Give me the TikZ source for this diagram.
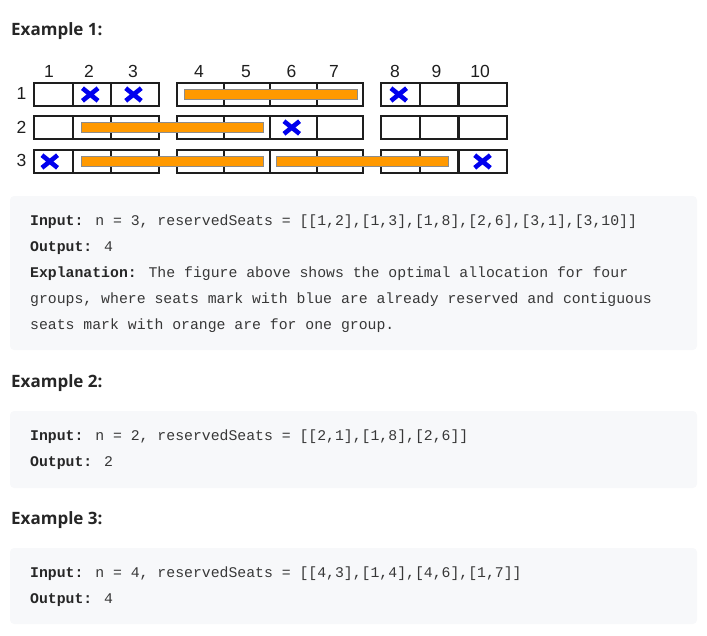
\documentclass[tikz,border=0pt]{standalone}
\usepackage{fontspec}
\usetikzlibrary{shapes.misc}
\newfontfamily\headfont{Open Sans}
\newfontfamily\seatfont{Liberation Sans}
\newfontfamily\codefont{Liberation Mono}
\definecolor{headtext}{RGB}{38,38,38}
\definecolor{codetext}{RGB}{55,55,55}
\definecolor{codebg}{RGB}{247,248,250}
\definecolor{seatline}{RGB}{30,30,30}
\definecolor{grouporange}{RGB}{255,153,0}
\definecolor{reservedblue}{RGB}{0,0,238}

\begin{document}
\begin{tikzpicture}[x=1pt, y=-1pt,
		seat/.style={draw=seatline, line width=2pt, inner sep=0pt, outer sep=0pt, minimum height=23pt},
		narrow/.style={seat, minimum width=38.5pt},
		middle/.style={seat, minimum width=46.5pt},
		wide/.style={seat, minimum width=48pt},
		group/.style={fill=grouporange, draw=black!45, line width=0.6pt},
		reserved/.style={cross out, draw=reservedblue, line width=4.6pt, minimum width=11pt, minimum height=8pt, inner sep=0pt, xshift=-1.5pt},
		seatnum/.style={font=\seatfont\fontsize{17.5}{17.5}\selectfont, text=seatline, inner sep=0pt, anchor=base},
		heading/.style={font=\headfont\bfseries\fontsize{17}{17}\selectfont, text=headtext, inner sep=0pt, anchor=base west},
		codeline/.style={font=\codefont\fontsize{14.8}{14.8}\selectfont, text=codetext, inner sep=0pt, anchor=base west},
		codebox/.style={fill=codebg, rounded corners=4pt}]

				\useasboundingbox (0, 0) rectangle (707, 635);

				\node [heading] (h1) at (11, 35) {Example 1:};

				% column numbers
				\node [seatnum] (c1) at (49, 77.5) {1};
				\node [seatnum] (c2) at (89, 77.5) {2};
				\node [seatnum] (c3) at (133, 77.5) {3};
				\node [seatnum] (c4) at (199, 77.5) {4};
				\node [seatnum] (c5) at (246, 77.5) {5};
				\node [seatnum] (c6) at (291.5, 77.5) {6};
				\node [seatnum] (c7) at (334, 77.5) {7};
				\node [seatnum] (c8) at (395, 77.5) {8};
				\node [seatnum] (c9) at (436.5, 77.5) {9};
				\node [seatnum] (c10) at (480, 77.5) {10};

				% row numbers
				\node [seatnum] (r1) at (21.5, 99.5) {1};
				\node [seatnum] (r2) at (21.5, 133) {2};
				\node [seatnum] (r3) at (21.5, 166) {3};

				% row 1
				\node [narrow] (s11) at (53.25, 94.5) {};
				\node [narrow] (s12) at (91.75, 94.5) {};
				\node [wide] (s13) at (135, 94.5) {};
				\node [middle] (s14) at (200.25, 94.5) {};
				\node [middle] (s15) at (246.75, 94.5) {};
				\node [middle] (s16) at (293.25, 94.5) {};
				\node [middle] (s17) at (339.75, 94.5) {};
				\node [narrow] (s18) at (400.25, 94.5) {};
				\node [narrow] (s19) at (438.75, 94.5) {};
				\node [wide] (s110) at (482.5, 94.5) {};

				% row 2
				\node [narrow] (s21) at (53.25, 127.5) {};
				\node [narrow] (s22) at (91.75, 127.5) {};
				\node [wide] (s23) at (135, 127.5) {};
				\node [middle] (s24) at (200.25, 127.5) {};
				\node [middle] (s25) at (246.75, 127.5) {};
				\node [middle] (s26) at (293.25, 127.5) {};
				\node [middle] (s27) at (339.75, 127.5) {};
				\node [narrow] (s28) at (400.25, 127.5) {};
				\node [narrow] (s29) at (438.75, 127.5) {};
				\node [wide] (s210) at (482.5, 127.5) {};

				% row 3
				\node [narrow] (s31) at (53.25, 161.5) {};
				\node [narrow] (s32) at (91.75, 161.5) {};
				\node [wide] (s33) at (135, 161.5) {};
				\node [middle] (s34) at (200.25, 161.5) {};
				\node [middle] (s35) at (246.75, 161.5) {};
				\node [middle] (s36) at (293.25, 161.5) {};
				\node [middle] (s37) at (339.75, 161.5) {};
				\node [narrow] (s38) at (400.25, 161.5) {};
				\node [narrow] (s39) at (438.75, 161.5) {};
				\node [wide] (s310) at (482.5, 161.5) {};

				%------ groups
				\draw [group] ([xshift=7pt, yshift=5pt]s14.west) rectangle ([xshift=-6pt, yshift=-5pt]s17.east);
				\draw [group] ([xshift=8.5pt, yshift=5pt]s22.west) rectangle ([xshift=-7pt, yshift=-5pt]s25.east);
				\draw [group] ([xshift=8.5pt, yshift=5pt]s32.west) rectangle ([xshift=-7pt, yshift=-5pt]s35.east);
				\draw [group] ([xshift=6pt, yshift=5pt]s36.west) rectangle ([xshift=-10pt, yshift=-5pt]s39.east);

				%------ reserved seats
				\node [reserved] (x12) at (s12) {};
				\node [reserved] (x13) at (s13) {};
				\node [reserved] (x18) at (s18) {};
				\node [reserved] (x26) at (s26) {};
				\node [reserved, xshift=-2pt] (x31) at (s31) {};
				\node [reserved, xshift=1.5pt] (x310) at (s310) {};

				%------ example 1
				\fill [codebox] (10, 196) rectangle (697, 350);
				\node [codeline] (in1) at (30, 225) {\textbf{\color{headtext}Input:} n = 3, reservedSeats = [[1,2],[1,3],[1,8],[2,6],[3,1],[3,10]]};
				\node [codeline] (out1) at (30, 251) {\textbf{\color{headtext}Output:} 4};
				\node [codeline] (ex1) at (30, 277) {\textbf{\color{headtext}Explanation:} The figure above shows the optimal allocation for four};
				\node [codeline] (ex2) at (30, 303) {groups, where seats mark with blue are already reserved and contiguous};
				\node [codeline] (ex3) at (30, 329) {seats mark with orange are for one group.};

				%------ example 2
				\node [heading] (h2) at (11, 387) {Example 2:};
				\fill [codebox] (10, 411) rectangle (697, 488);
				\node [codeline] (in2) at (30, 440) {\textbf{\color{headtext}Input:} n = 2, reservedSeats = [[2,1],[1,8],[2,6]]};
				\node [codeline] (out2) at (30, 466) {\textbf{\color{headtext}Output:} 2};

				%------ example 3
				\node [heading] (h3) at (11, 524) {Example 3:};
				\fill [codebox] (10, 548) rectangle (697, 624);
				\node [codeline] (in3) at (30, 577) {\textbf{\color{headtext}Input:} n = 4, reservedSeats = [[4,3],[1,4],[4,6],[1,7]]};
				\node [codeline] (out3) at (30, 603) {\textbf{\color{headtext}Output:} 4};
		\end{tikzpicture}
\end{document}
